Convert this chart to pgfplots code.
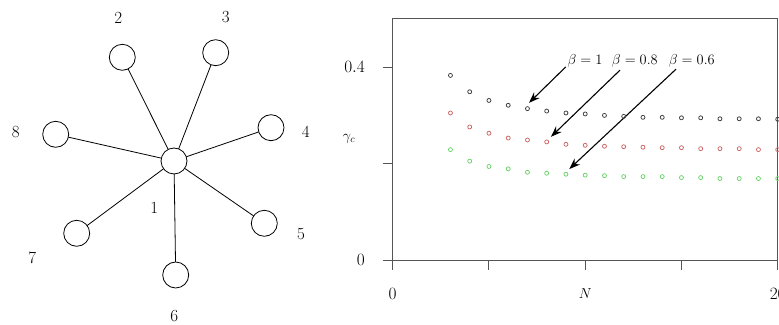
\documentclass[border=0pt]{standalone}
\usepackage{pgfplots}
\pgfplotsset{compat=1.18}
\usetikzlibrary{arrows.meta}
\definecolor{cblack}{RGB}{60,60,60}
\definecolor{cred}{RGB}{205,100,100}
\definecolor{cgreen}{RGB}{105,210,105}
\definecolor{caxis}{RGB}{85,85,85}
\tikzset{lbl/.style={font=\fontsize{17}{20}\selectfont}}
\begin{document}
\fontsize{14}{17}\selectfont
\begin{tikzpicture}
\useasboundingbox (0,0) rectangle (779pt,324pt);
% star graph, drawn in a hidden axis (1 unit = 1pt)
\begin{axis}[
  at={(0pt,0pt)}, anchor=south west,
  scale only axis, width=340pt, height=324pt,
  xmin=0, xmax=340, ymin=0, ymax=324,
  hide axis, clip=false,
]
\addplot[black, line width=0.8pt] coordinates {(174,163) (122.3,266.7)};
\addplot[black, line width=0.8pt] coordinates {(174,163) (215.7,271.3)};
\addplot[black, line width=0.8pt] coordinates {(174,163) (271,196.3)};
\addplot[black, line width=0.8pt] coordinates {(174,163) (264.3,100.7)};
\addplot[black, line width=0.8pt] coordinates {(174,163) (175.7,49)};
\addplot[black, line width=0.8pt] coordinates {(174,163) (76.7,90.7)};
\addplot[black, line width=0.8pt] coordinates {(174,163) (55.7,189.7)};
\addplot[only marks, mark=*, mark size=13pt,
  mark options={fill=white, draw=black, line width=0.8pt}]
  coordinates {(174,163) (122.3,266.7) (215.7,271.3) (271,196.3)
               (264.3,100.7) (175.7,49) (76.7,90.7) (55.7,189.7)};
\node[lbl] at (axis cs:154.3,116.3) {1};
\node[lbl] at (axis cs:118.3,305.7) {2};
\node[lbl] at (axis cs:225.7,306.7) {3};
\node[lbl] at (axis cs:305.7,191.7) {4};
\node[lbl] at (axis cs:301,89.7) {5};
\node[lbl] at (axis cs:174.3,7.5) {6};
\node[lbl] at (axis cs:32.3,66.3) {7};
\node[lbl] at (axis cs:15.7,191.7) {8};
\end{axis}
% gamma_c versus N
\begin{axis}[
  at={(392.7pt,64pt)}, anchor=south west,
  scale only axis, width=385pt, height=241pt,
  xmin=0, xmax=20, ymin=0, ymax=0.5,
  axis line style={draw=caxis, line width=1pt},
  tick style={draw=caxis, line width=1pt},
  tick align=outside, major tick length=10pt, tick pos=left,
  xtick={0,5,10,15,20}, xticklabels={$0$,,,,$20$},
  ytick={0,0.2,0.4}, yticklabels={$0$,,$0.4$},
  ticklabel style={font=\fontsize{16}{19}\selectfont},
  xticklabel style={anchor=center, yshift=-24pt},
  yticklabel style={anchor=east, inner sep=0pt, xshift=-17.7pt},
  xlabel={$N$},
  xlabel style={at={(axis description cs:0.5,-0.141)}, anchor=center, inner sep=0pt},
  ylabel={$\gamma_c$},
  ylabel style={rotate=-90, at={(axis description cs:-0.1135,0.502)}, anchor=center, inner sep=0pt},
  clip=false,
]
\addplot[only marks, mark=o, mark size=2pt, cblack, mark options={line width=0.75pt}] coordinates {
(3,0.383) (4,0.349) (5,0.331) (6,0.321) (7,0.314) (8,0.309) (9,0.305) (10,0.303)
(11,0.300) (12,0.298) (13,0.296) (14,0.296) (15,0.295) (16,0.295) (17,0.293)
(18,0.293) (19,0.293) (20,0.292)};
\addplot[only marks, mark=o, mark size=2pt, cred, mark options={line width=0.75pt}] coordinates {
(3,0.305) (4,0.276) (5,0.263) (6,0.253) (7,0.249) (8,0.245) (9,0.240) (10,0.238)
(11,0.236) (12,0.235) (13,0.234) (14,0.233) (15,0.233) (16,0.231) (17,0.231)
(18,0.231) (19,0.229) (20,0.229)};
\addplot[only marks, mark=o, mark size=2pt, cgreen, mark options={line width=0.75pt}] coordinates {
(3,0.229) (4,0.205) (5,0.194) (6,0.189) (7,0.182) (8,0.180) (9,0.178) (10,0.176)
(11,0.175) (12,0.173) (13,0.173) (14,0.173) (15,0.171) (16,0.171) (17,0.169)
(18,0.169) (19,0.169) (20,0.169)};
\draw[-{Stealth[length=11pt,width=8pt]}, line width=1.1pt] (axis cs:8.99,0.4006) -- (axis cs:7.08,0.326);
\draw[-{Stealth[length=11pt,width=8pt]}, line width=1.1pt] (axis cs:11.81,0.394) -- (axis cs:8.22,0.2556);
\draw[-{Stealth[length=11pt,width=8pt]}, line width=1.1pt] (axis cs:14.72,0.396) -- (axis cs:9.17,0.1886);
\node at (axis cs:9.99,0.4124) {$\beta = 1$};
\node at (axis cs:12.58,0.4124) {$\beta = 0.8$};
\node at (axis cs:15.54,0.4124) {$\beta = 0.6$};
\end{axis}
\end{tikzpicture}
\end{document}
